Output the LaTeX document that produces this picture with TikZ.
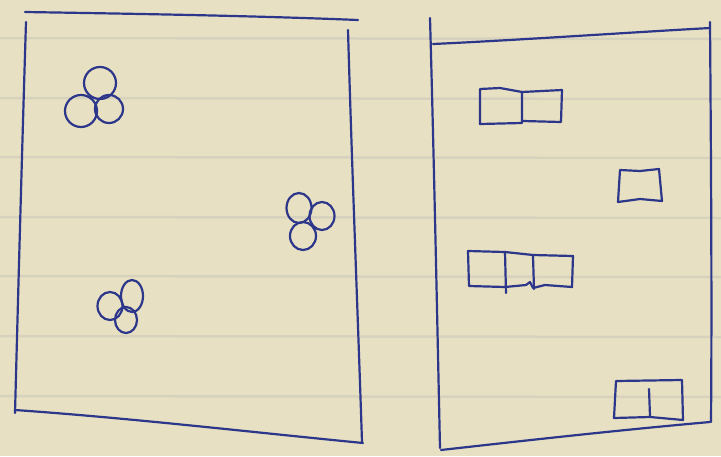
\documentclass[tikz,border=0pt]{standalone}
\usepackage{tikz}
\definecolor{paper}{HTML}{E8E0C2}
\definecolor{rule}{HTML}{D6D2BE}
\definecolor{ink}{HTML}{2C368A}
\tikzset{
  inkline/.style={draw=ink, line width=2.2pt, line cap=round, line join=round},
  blob/.style={inkline},
  ruling/.style={draw=rule, line width=2.5pt}
}
\begin{document}
\begin{tikzpicture}[x=1pt,y=-1pt]
\useasboundingbox (0,0) rectangle (721,456);
\fill[paper] (0,0) rectangle (721,456);
\foreach \yy in {38,98,157,217,276,336,396} {
  \draw[ruling] (0,\yy) -- (721,\yy+1);
}
% left panel
\draw[inkline] (25,12) .. controls (150,14) and (260,16) .. (358,20);
\draw[inkline] (26,22) .. controls (22,150) and (18,300) .. (15,413);
\draw[inkline] (348,30) .. controls (352,170) and (358,320) .. (362,442);
\draw[inkline] (15,410) .. controls (130,418) and (250,432) .. (363,443);
% right panel
\draw[inkline] (430,18) .. controls (434,160) and (437,310) .. (440,448);
\draw[inkline] (433,44) .. controls (520,40) and (620,33) .. (710,28);
\draw[inkline] (710,22) .. controls (711,150) and (712,300) .. (711,422);
\draw[inkline] (441,450) .. controls (530,440) and (620,430) .. (710,422);
% cluster 1
\draw[blob] (100,83) ellipse [x radius=16, y radius=16];
\draw[blob] (81,111) ellipse [x radius=16, y radius=16];
\draw[blob] (109,109) ellipse [x radius=14, y radius=14];
% cluster 2
\draw[blob] (299,208) ellipse [x radius=12.5, y radius=15];
\draw[blob] (322,216) ellipse [x radius=12.5, y radius=14];
\draw[blob] (303,236) ellipse [x radius=13, y radius=14];
% cluster 3
\draw[blob] (110,306) ellipse [x radius=12.5, y radius=14];
\draw[blob] (132,296) ellipse [x radius=11, y radius=16];
\draw[blob] (126,320) ellipse [x radius=11, y radius=13];
% right panel boxes
\draw[inkline] (480,89) -- (500,88) -- (522,92) -- (522,123) -- (480,124) -- cycle;
\draw[inkline] (522,92) -- (562,90) -- (561,122) -- (523,121);
\draw[inkline] (620,170) -- (640,171) -- (659,169) -- (662,201) -- (640,199) -- (618,202) -- cycle;
\draw[inkline] (468,251) -- (505,252) -- (533,255) -- (573,256) -- (572,287) -- (545,285) -- (533,288)
   -- (530,282) -- (526,285) -- (505,287) -- (469,286) -- cycle;
\draw[inkline] (505,252) -- (506,293);
\draw[inkline] (533,256) -- (534,289);
\draw[inkline] (616,381) -- (682,380) -- (683,420) -- (650,417) -- (614,418) -- cycle;
\draw[inkline] (649,389) -- (650,416);
\end{tikzpicture}
\end{document}
